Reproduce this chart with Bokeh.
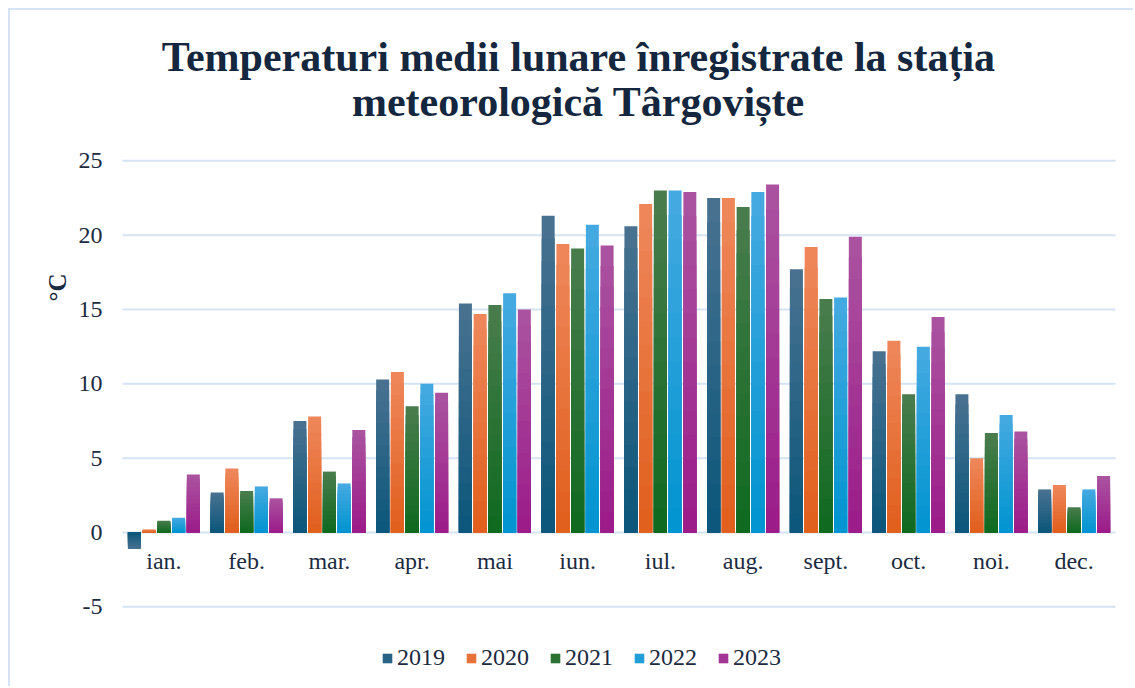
from bokeh.plotting import figure
from bokeh.models import Range1d, Legend, LegendItem
from bokeh.transform import dodge
from bokeh.core.properties import value
from bokeh.embed import file_html
from bokeh.resources import INLINE

months = ["ian.", "feb.", "mar.", "apr.", "mai", "iun.", "iul.", "aug.", "sept.", "oct.", "noi.", "dec."]
years = ["2019", "2020", "2021", "2022", "2023"]
t2019 = [-1.1, 2.7, 7.5, 10.3, 15.4, 21.3, 20.6, 22.5, 17.7, 12.2, 9.3, 2.9]
t2020 = [0.2, 4.3, 7.8, 10.8, 14.7, 19.4, 22.1, 22.5, 19.2, 12.9, 5.0, 3.2]
t2021 = [0.8, 2.8, 4.1, 8.5, 15.3, 19.1, 23.0, 21.9, 15.7, 9.3, 6.7, 1.7]
t2022 = [1.0, 3.1, 3.3, 10.0, 16.1, 20.7, 23.0, 22.9, 15.8, 12.5, 7.9, 2.9]
t2023 = [3.9, 2.3, 6.9, 9.4, 15.0, 19.3, 22.9, 23.4, 19.9, 14.5, 6.8, 3.8]
y_ticks = [-5, 0, 5, 10, 15, 20, 25]
y_tick_labels = [str(t) for t in y_ticks]
title_lines = ["Temperaturi medii lunare înregistrate la stația", "meteorologică Târgoviște"]
y_title = "°C"

series = [t2019, t2020, t2021, t2022, t2023]
top_colors = [(74, 114, 145), (238, 136, 92), (74, 125, 78), (70, 170, 225), (171, 84, 160)]
bottom_colors = [(10, 86, 122), (225, 94, 28), (14, 105, 30), (0, 148, 208), (155, 27, 137)]

TEXT = "#1c2b3f"
TITLE = "#14273e"
GRID = "#d5e3f4"
FONT = "Liberation Serif"

# month positions on a numeric category axis (index + 0.5)
xpos = [i + 0.5 for i in range(len(months))]

p = figure(x_range=Range1d(-1.3535, 12.2417), y_range=Range1d(-10.49, 35.11),
           width=1125, height=678, output_backend="svg", toolbar_location=None,
           min_border=0, x_axis_type=None, y_axis_type=None)
p.styles = {"margin-left": "8px", "margin-top": "8px",
            "border-left": "2px solid " + GRID, "border-top": "2px solid " + GRID}
p.outline_line_color = None
p.grid.visible = False

# horizontal grid lines
p.segment(x0=0, x1=len(months), y0=y_ticks, y1=y_ticks, line_color=GRID, line_width=2)

# y tick labels
p.text(x=[0] * len(y_ticks), y=y_ticks, text=y_tick_labels, text_align="right",
       text_baseline="middle", x_offset=-20, text_font=value(FONT), text_font_size="24px",
       text_color=TEXT)

N = 14
pitch = 0.178
bw = 0.157
legend_items = []
for k, (yr, vals) in enumerate(zip(years, series)):
    off = (k - 2) * pitch
    tc, bc = top_colors[k], bottom_colors[k]
    mid_r = None
    for i in range(N, 0, -1):
        frac = i / N
        t = (i - 0.5) / N
        col = tuple(int(round(bc[j] + (tc[j] - bc[j]) * t)) for j in range(3))
        hexc = "#%02x%02x%02x" % col
        tops = [v * frac for v in vals]
        r = p.vbar(x=dodge("x", off), top="top", bottom=0, width=bw,
                   source=dict(x=xpos, top=tops), fill_color=hexc, line_color=None)
        if i == N // 2:
            mid_r = r
    legend_items.append(LegendItem(label=yr, renderers=[mid_r]))

# category labels next to the zero line
p.text(x=xpos, y=[0] * len(months), text=months, text_align="center", text_baseline="middle",
       y_offset=28, text_font=value(FONT), text_font_size="24px", text_color=TEXT)

# title
p.text(x=[5.51, 5.51], y=[31.99, 28.95], text=title_lines, text_align="center",
       text_baseline="middle", text_font=value(FONT), text_font_size="42px",
       text_font_style="bold", text_color=TITLE)

# y axis title
p.text(x=[-0.785], y=[16.48], text=[y_title], angle=1.5708, text_align="center",
       text_baseline="middle", text_font=value(FONT), text_font_size="25px",
       text_font_style="bold", text_color=TEXT)

legend = Legend(items=legend_items, orientation="horizontal", location=(371, 17),
                label_text_font=FONT, label_text_font_size="24px", label_text_color=TEXT,
                glyph_width=12, glyph_height=12, label_standoff=4, spacing=20,
                padding=0, margin=0, border_line_color=None, background_fill_alpha=0)
p.add_layout(legend, "center")

open("out.html", "w").write(file_html(p, INLINE))
